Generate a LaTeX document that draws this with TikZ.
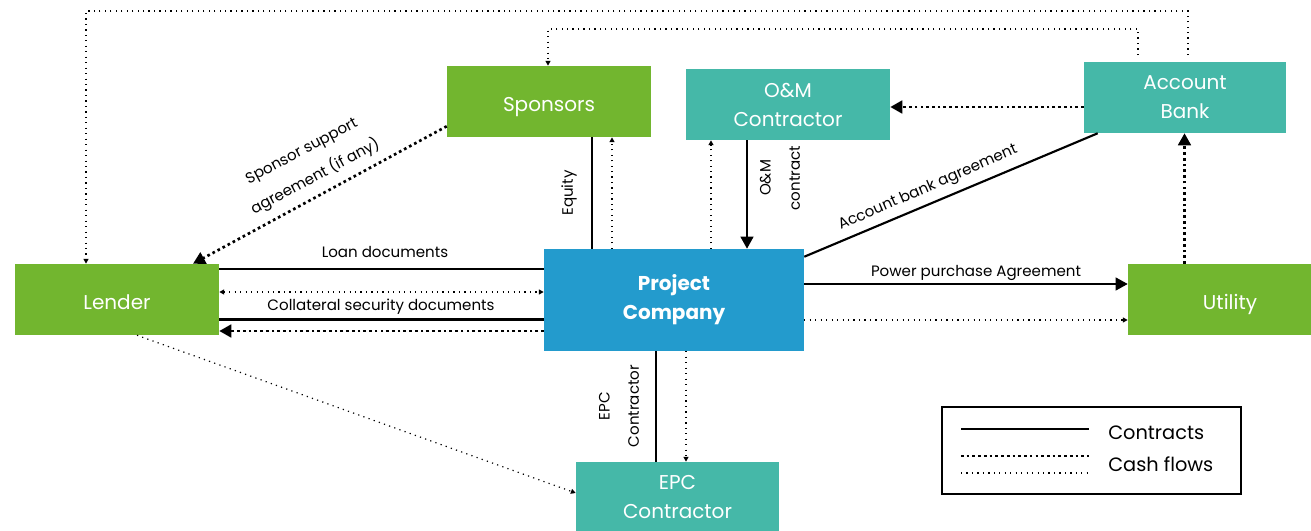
\documentclass[tikz,border=0pt]{standalone}
\usepackage{fontspec}
\setmainfont{Poppins}
\usetikzlibrary{arrows.meta,calc}
\definecolor{cgreen}{RGB}{114,182,47}
\definecolor{cteal}{RGB}{69,184,168}
\definecolor{cblue}{RGB}{35,155,205}
\newcommand\lblfont{\fontsize{11.3}{22}\selectfont}
\newcommand\boxfont{\fontsize{15}{21.75}\selectfont}
\tikzset{
  entity/.style={fill=#1, text=white, align=center, inner sep=0pt,
    minimum width=153pt, minimum height=53.25pt, font=\boxfont},
  oneline/.style={text height=15pt, text depth=0pt},
  contract/.style={line width=1.6pt},
  cashthick/.style={line width=2pt, dash pattern=on 2pt off 2.3pt},
  cashthin/.style={line width=0.9pt, dash pattern=on 0.9pt off 3.2pt},
  bigtip/.style={-{Triangle[length=9pt,width=9.5pt]}},
  smalltip/.style={-{Triangle[length=3.6pt,width=3.6pt]}},
  lbl/.style={font=\lblfont, inner sep=0pt, align=center},
}
\begin{document}
\begin{tikzpicture}[x=0.75pt,y=-0.75pt]
\useasboundingbox (0,0) rectangle (1311,531);
% entities
\node[entity=cgreen, oneline] (spon) at (549,101.5) {Sponsors};
\node[entity=cgreen, oneline] (lend) at (117,299.5) {Lender};
\node[entity=cblue, minimum width=195pt, minimum height=76.5pt, font=\boxfont\bfseries] (pc) at (674,300) {Project\\Company};
\node[entity=cteal] (om) at (788,104.5) {O\&M\\Contractor};
\node[entity=cteal, minimum width=151.5pt] (ab) at (1185,97.5) {Account\\Bank};
\node[entity=cgreen, oneline] (util) at (1230,299.5) {Utility};
\node[entity=cteal, minimum width=152.25pt] (epc) at (677.5,497.5) {EPC\\Contractor};
% helper coordinates
\coordinate (t1) at (1188,11);
\coordinate (t2) at (86,11);
\coordinate (t3) at (1138,29);
\coordinate (t4) at (548,29);
\coordinate (yom) at (0,107);
\coordinate (yppa) at (0,284);
\coordinate (yppb) at (0,320);
\coordinate (yl1) at (0,269);
\coordinate (yl2) at (0,292);
\coordinate (yl3) at (0,319.5);
\coordinate (yl4) at (0,331);
\coordinate (yepc) at (0,493);
% top cash flows
\draw[cashthin,smalltip,shorten <=5pt] (t1 |- ab.north) -- (t1) -| (t2 |- lend.north);
\draw[cashthin,smalltip,shorten <=5pt] (t3 |- ab.north) -- (t3) -| (t4 |- spon.north);
% sponsor support
\draw[cashthick,bigtip] ($(spon.south west)+(0,-11)$) -- (193,0 |- lend.north);
\node[lbl, rotate=28] (lss) at (309,165) {Sponsor support\\agreement (if any)};
% equity
\draw[contract] (592,0 |- spon.south) -- (592,0 |- pc.north);
\draw[cashthin,smalltip] (612,0 |- pc.north) -- (612,0 |- spon.south);
\node[lbl, rotate=90] (leq) at (569,193) {Equity};
% O&M
\draw[cashthin,smalltip] (711,0 |- pc.north) -- (711,0 |- om.south);
\draw[contract,bigtip] (747,0 |- om.south) -- (747,0 |- pc.north);
\node[lbl, rotate=90] (lom) at (780,178) {O\&M\\contract};
% account bank
\draw[contract] ($(pc.north east)+(0,8)$) -- ($(ab.south west)+(14,0)$);
\node[lbl, rotate=23.5] (lab) at (928,188) {Account bank agreement};
\draw[cashthick,bigtip] (ab.west |- yom) -- (om.east |- yom);
\draw[cashthick,bigtip] (1184.5,0 |- util.north) -- (1184.5,0 |- ab.south);
% PPA
\draw[contract,bigtip] (pc.east |- yppa) -- (util.west |- yppa);
\draw[cashthin,smalltip] (pc.east |- yppb) -- (util.west |- yppb);
\node[lbl] (lppa) at (976,273) {Power purchase Agreement};
% lender
\draw[contract] (lend.east |- yl1) -- (pc.west |- yl1);
\draw[cashthin,{Triangle[length=3.6pt,width=3.6pt]}-{Triangle[length=3.6pt,width=3.6pt]}] (lend.east |- yl2) -- (pc.west |- yl2);
\draw[contract] (lend.east |- yl3) -- (pc.west |- yl3);
\draw[cashthick,bigtip] (pc.west |- yl4) -- (lend.east |- yl4);
\node[lbl] (lloan) at (385,252) {Loan documents};
\node[lbl] (lcol) at (381,306.5) {Collateral security documents};
\draw[cashthin,smalltip] (137,0 |- lend.south) -- (epc.west |- yepc);
% EPC
\draw[contract] (656,0 |- pc.south) -- (656,0 |- epc.north);
\draw[cashthin,smalltip] (686,0 |- pc.south) -- (686,0 |- epc.north);
\node[lbl, rotate=90] (lepc) at (619,406) {EPC\\Contractor};
% legend
\node[draw, line width=0.8pt, minimum width=224.25pt, minimum height=65.25pt, inner sep=0pt] (leg) at (1091.5,450.5) {};
\coordinate (la) at (961,429);
\coordinate (lb) at (1089,429);
\draw[contract] (la) -- (lb);
\draw[cashthick] ($(la)+(0,27)$) -- ($(lb)+(0,27)$);
\draw[cashthin] ($(la)+(0,44)$) -- ($(lb)+(0,44)$);
\node[anchor=west, font=\fontsize{14.5}{18}\selectfont, inner sep=0pt] (lgc) at (1108,433) {Contracts};
\node[anchor=west, font=\fontsize{14.5}{18}\selectfont, inner sep=0pt] (lgf) at (1108,464) {Cash flows};
\end{tikzpicture}
\end{document}
